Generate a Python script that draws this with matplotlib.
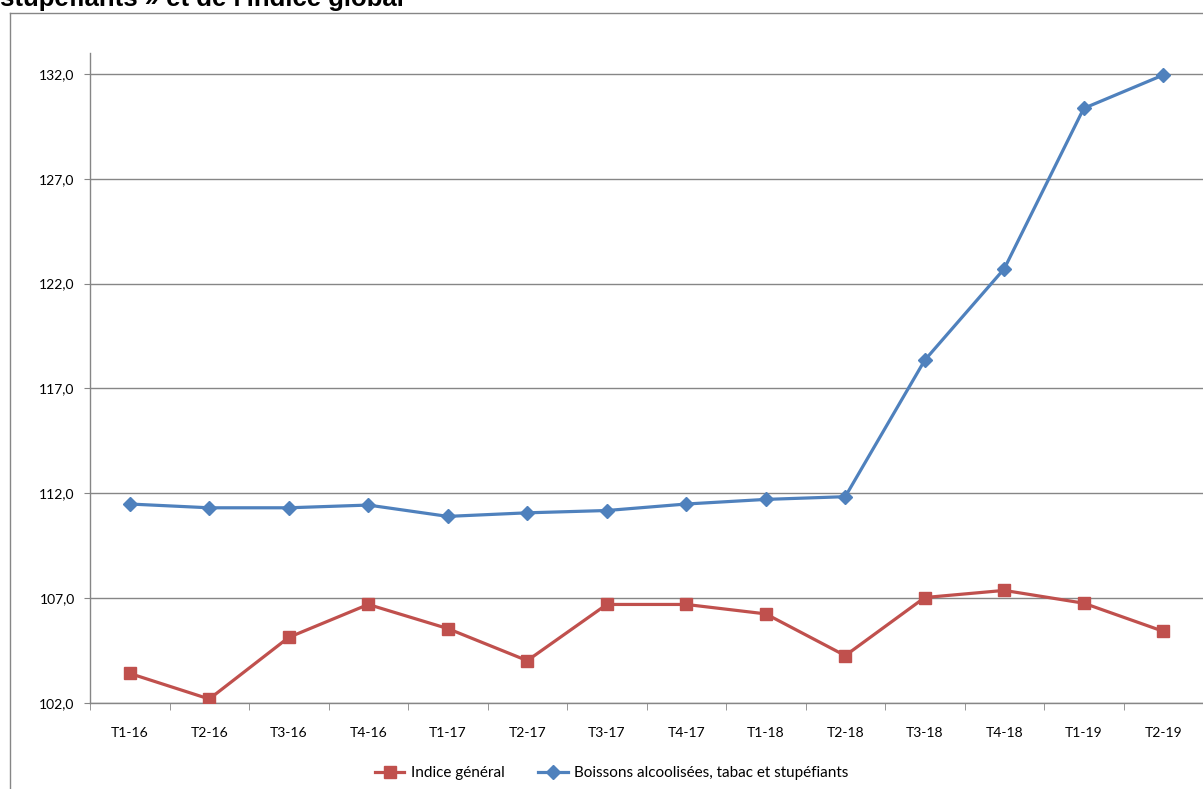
import numpy as np
import matplotlib
matplotlib.use("Agg")
import matplotlib.pyplot as plt
from matplotlib.lines import Line2D

# Données trimestrielles
trimestres = ["T1-16", "T2-16", "T3-16", "T4-16", "T1-17", "T2-17", "T3-17",
              "T4-17", "T1-18", "T2-18", "T3-18", "T4-18", "T1-19", "T2-19"]
indice_general = [103.41, 102.19, 105.13, 106.70, 105.55, 104.02, 106.70,
                  106.70, 106.25, 104.26, 107.03, 107.37, 106.76, 105.42]
boissons_tabac = [111.49, 111.31, 111.31, 111.44, 110.90, 111.07, 111.18,
                  111.49, 111.71, 111.84, 118.35, 122.71, 130.36, 131.95]
y_ticks = [102.0, 107.0, 112.0, 117.0, 122.0, 127.0, 132.0]

W, H = 1203, 789
ROUGE = "#C0504D"
BLEU = "#4F81BD"
GRIS = "#868686"
plt.rcParams["font.family"] = ["Lato", "DejaVu Sans"]

fig = plt.figure(figsize=(W / 100, H / 100), dpi=100, facecolor="w")

# cadre du graphique (coupé à droite et en bas)
fig.add_artist(Line2D([10 / W, 10 / W], [1 - 13 / H, 0], color=GRIS, lw=1))
fig.add_artist(Line2D([10 / W, 1], [1 - 13 / H, 1 - 13 / H], color=GRIS, lw=1))

# titre coupé en haut, comme sur l'original
fig.text(0, 1 - 6 / H, "stupéfiants » et de l'indice global", fontsize=18.5,
         fontweight="bold", family="Liberation Sans", va="baseline", ha="left")

ax = fig.add_axes([90 / W, 1 - 703 / H, (1203 - 90) / W, (703 - 53) / H])
x = np.arange(len(trimestres))

ax.plot(x, indice_general, color=ROUGE, lw=2.3, marker="s", markersize=9,
        label="Indice général", zorder=3)
ax.plot(x, boissons_tabac, color=BLEU, lw=2.3, marker="D", markersize=7,
        label="Boissons alcoolisées, tabac et stupéfiants", zorder=3)

ax.set_xlim(-0.5, len(trimestres) - 0.5)
ax.set_ylim(102, 133)
ax.set_yticks(y_ticks)
ax.set_yticklabels([f"{v:.1f}".replace(".", ",") for v in y_ticks])
ax.set_xticks(x)
ax.set_xticklabels(trimestres)
ax.set_xticks(np.arange(-0.5, len(trimestres), 1), minor=True)

ax.grid(axis="y", color=GRIS, lw=1, zorder=0)
ax.set_axisbelow(True)
for s in ["top", "right"]:
    ax.spines[s].set_visible(False)
for s in ["left", "bottom"]:
    ax.spines[s].set_color(GRIS)
    ax.spines[s].set_linewidth(1)

ax.tick_params(axis="y", length=4, color=GRIS, pad=7, labelsize=10)
ax.tick_params(axis="x", which="major", length=0, pad=17, labelsize=10)
ax.tick_params(axis="x", which="minor", length=5, color=GRIS)

fig.legend(loc="center", bbox_to_anchor=(612 / W, 1 - 773 / H), ncol=2,
           frameon=False, fontsize=11, handlelength=1.9, handletextpad=0.45,
           columnspacing=2.2)

fig.savefig("out.png", dpi=100)
